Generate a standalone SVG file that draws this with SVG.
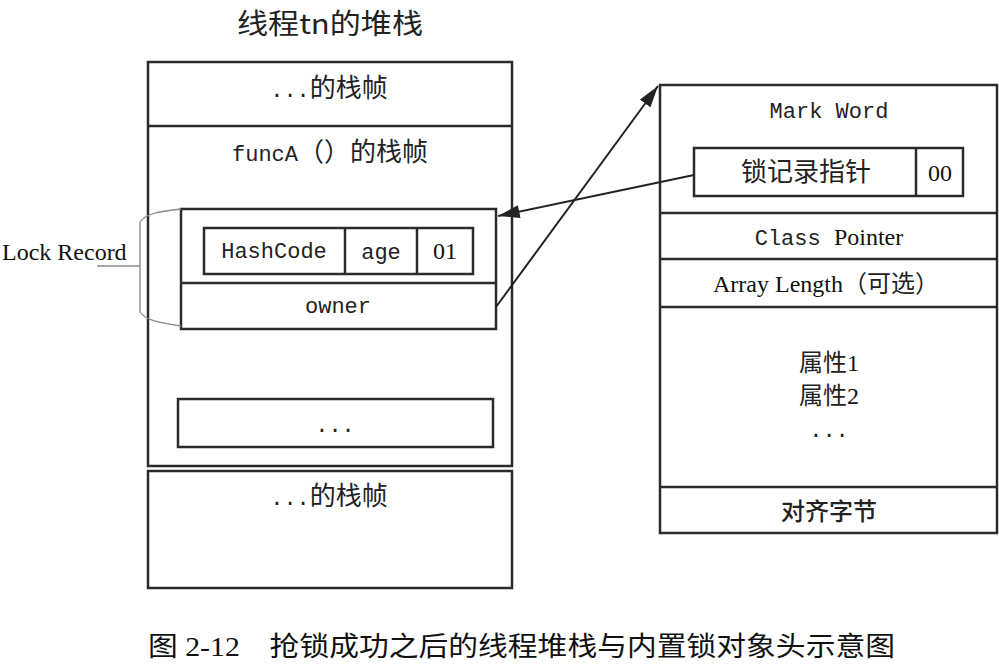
<svg xmlns="http://www.w3.org/2000/svg" width="999" height="669" viewBox="0 0 999 669">
<style>
.box{fill:#fff;stroke:#2b2b2b;stroke-width:2.5}
.mono{font-family:"Liberation Mono","Noto Sans CJK SC",monospace;font-size:22px;fill:#222}
.serif{font-family:"Liberation Serif","Noto Sans CJK SC",serif;font-size:24px;fill:#111}
.cjk{font-family:"Noto Sans CJK SC",sans-serif;font-size:25px;fill:#222}
.c{text-anchor:middle}
.conn{stroke:#222;stroke-width:2;fill:none}
</style>
<defs>
<marker id="arrL" viewBox="0 0 20 12" refX="20" refY="6" markerWidth="22" markerHeight="13" orient="auto" markerUnits="userSpaceOnUse">
<path d="M0,0 L20,6 L0,12 Z" fill="#222"/>
</marker>
</defs>
<rect width="999" height="669" fill="#fff"/>
<text x="330" y="34" class="c" textLength="186" lengthAdjust="spacingAndGlyphs" style="font-family:'Noto Sans CJK SC',sans-serif;font-size:28px;font-weight:normal;fill:#222">线程tn的堆栈</text>

<g id="stack-frame-top">
<rect class="box" x="148" y="62" width="364" height="404"/>
<line class="box" x1="148" y1="126" x2="512" y2="126"/>
<text x="329" y="97" class="mono c">...<tspan class="cjk" style="font-size:26px">的栈帧</tspan></text>
</g>
<g id="funcA-frame">
<text x="330" y="161" class="mono c">funcA<tspan class="cjk" style="font-size:26px">（）的栈帧</tspan></text>
</g>
<g id="lock-record">
<rect class="box" x="181" y="209" width="315" height="120"/>
<line class="box" x1="181" y1="283" x2="496" y2="283"/>
<rect class="box" x="204" y="228" width="269" height="46"/>
<line class="box" x1="345" y1="228" x2="345" y2="274"/>
<line class="box" x1="417" y1="228" x2="417" y2="274"/>
<text x="274" y="258" class="mono c">HashCode</text>
<text x="381" y="259" class="mono c">age</text>
<text x="445" y="259" class="serif c">01</text>
<text x="338" y="313" class="mono c">owner</text>
</g>
<g id="lock-record-label">
<path d="M181,209 C160,211 145,214 140,222 L140,312 C145,320 160,323 181,326" fill="none" stroke="#888" stroke-width="1.3"/>
<line x1="97" y1="266" x2="140" y2="266" stroke="#888" stroke-width="1.3"/>
<text x="2" y="260" class="serif">Lock Record</text>
</g>
<g id="dots-box">
<rect class="box" x="178" y="399" width="315" height="48"/>
<text x="335" y="432" class="mono c">...</text>
</g>
<g id="stack-frame-bottom">
<rect class="box" x="148" y="471" width="364" height="117"/>
<text x="329" y="505" class="mono c">...<tspan class="cjk" style="font-size:26px">的栈帧</tspan></text>
</g>

<g id="object-header">
<rect class="box" x="660" y="85" width="337" height="448"/>
<line class="box" x1="660" y1="213" x2="997" y2="213"/>
<line class="box" x1="660" y1="259" x2="997" y2="259"/>
<line class="box" x1="660" y1="307" x2="997" y2="307"/>
<line class="box" x1="660" y1="487" x2="997" y2="487"/>
<text x="829" y="118" class="mono c">Mark Word</text>
<text x="829" y="245" class="mono c">Class <tspan class="serif">Pointer</tspan></text>
<text x="826" y="292" class="serif c">Array Length<tspan class="cjk" style="font-size:24px">（可选）</tspan></text>
<text x="829" y="371" class="cjk c" style="font-size:24px">属性<tspan class="serif">1</tspan></text>
<text x="829" y="404" class="cjk c" style="font-size:24px">属性<tspan class="serif">2</tspan></text>
<text x="829" y="437" class="mono c">...</text>
<text x="829" y="520" class="cjk c" style="font-size:24px;font-weight:500">对齐字节</text>
</g>
<g id="lock-pointer">
<rect class="box" x="694" y="148" width="269" height="48"/>
<line class="box" x1="916" y1="148" x2="916" y2="196"/>
<text x="806" y="181" class="cjk c" style="font-size:26px">锁记录指针</text>
<text x="940" y="181" class="serif c">00</text>
</g>

<g id="connectors">
<line class="conn" x1="694" y1="175" x2="498" y2="216" marker-end="url(#arrL)"/>
<line class="conn" x1="496" y1="307" x2="658" y2="86" marker-end="url(#arrL)"/>
</g>

<text x="148" y="656" textLength="747" lengthAdjust="spacingAndGlyphs" style="font-size:27px;font-family:'Liberation Serif','Noto Sans CJK SC',serif;fill:#111">图 2-12　抢锁成功之后的线程堆栈与内置锁对象头示意图</text>
</svg>
